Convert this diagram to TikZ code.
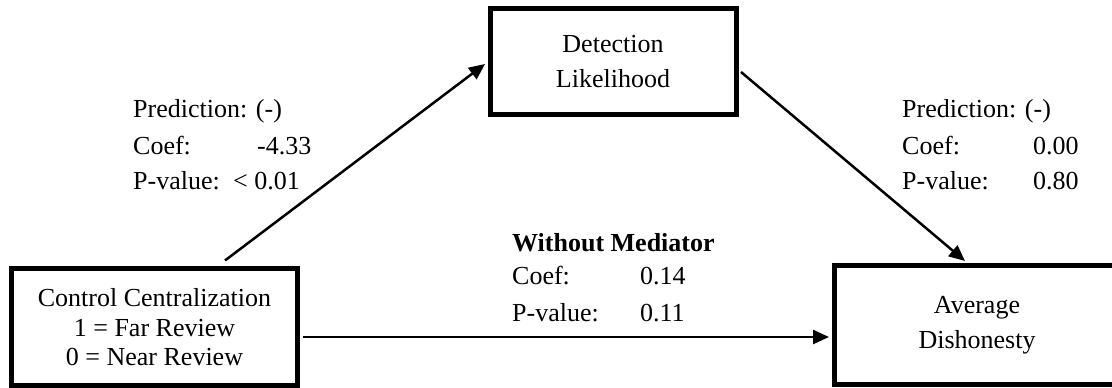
\documentclass[tikz,border=0pt]{standalone}
\usepackage{fontspec}
\setmainfont{Liberation Serif}
\usetikzlibrary{arrows.meta}
\begin{document}
\begin{tikzpicture}[x=1pt,y=1pt,
  box/.style={draw, line width=5pt, inner sep=0pt, align=center, font=\fontsize{26}{35}\selectfont},
  lbl/.style={anchor=base west, inner sep=0pt, font=\fontsize{26}{30}\selectfont},
  arr/.style={line width=2.5pt, -{Triangle[length=16pt,width=14pt]}}]
\clip (0,0) rectangle (1112,388);
\fill[white] (0,0) rectangle (1112,388);
% boxes
\node[box, minimum width=286pt, minimum height=117pt, font=\fontsize{26}{29.5}\selectfont] (L) at (154.5,60.5) {Control Centralization\\1 = Far Review\\0 = Near Review};
\node[box, minimum width=246pt, minimum height=106pt] (T) at (613,326) {Detection\\Likelihood};
\node[box, minimum width=286pt, minimum height=119pt] (R) at (977,62.5) {Average\\Dishonesty};
% connectors
\draw[arr] ([xshift=70.5pt,yshift=6pt]L.north) -- ([xshift=-2.5pt,yshift=-2pt]T.west);
\draw[arr] ([xshift=2.5pt,yshift=-10pt]T.east) -- ([xshift=-12pt,yshift=2.5pt]R.north);
\draw[arr] ([xshift=2.5pt,yshift=-9.5pt]L.east) -- ([xshift=-2.5pt,yshift=-11.5pt]R.west);
% left label
\node[lbl] (a1) at (133,270) {Prediction: (-)};
\node[lbl] (a2) at (133,233) {Coef:};
\node[lbl] (a2v) at (257,233) {-4.33};
\node[lbl] (a3) at (133,198) {P-value:};
\node[lbl] (a3v) at (233,198) {< 0.01};
% right label
\node[lbl] (b1) at (902,270) {Prediction: (-)};
\node[lbl] (b2) at (902,233) {Coef:};
\node[lbl] (b2v) at (1033,233) {0.00};
\node[lbl] (b3) at (902,198) {P-value:};
\node[lbl] (b3v) at (1033,198) {0.80};
% middle label
\node[lbl, font=\fontsize{26}{30}\selectfont\bfseries] (c1) at (512,136) {Without Mediator};
\node[lbl] (c2) at (512,103) {Coef:};
\node[lbl] (c2v) at (640,103) {0.14};
\node[lbl] (c3) at (512,66) {P-value:};
\node[lbl] (c3v) at (640,66) {0.11};
\end{tikzpicture}
\end{document}
